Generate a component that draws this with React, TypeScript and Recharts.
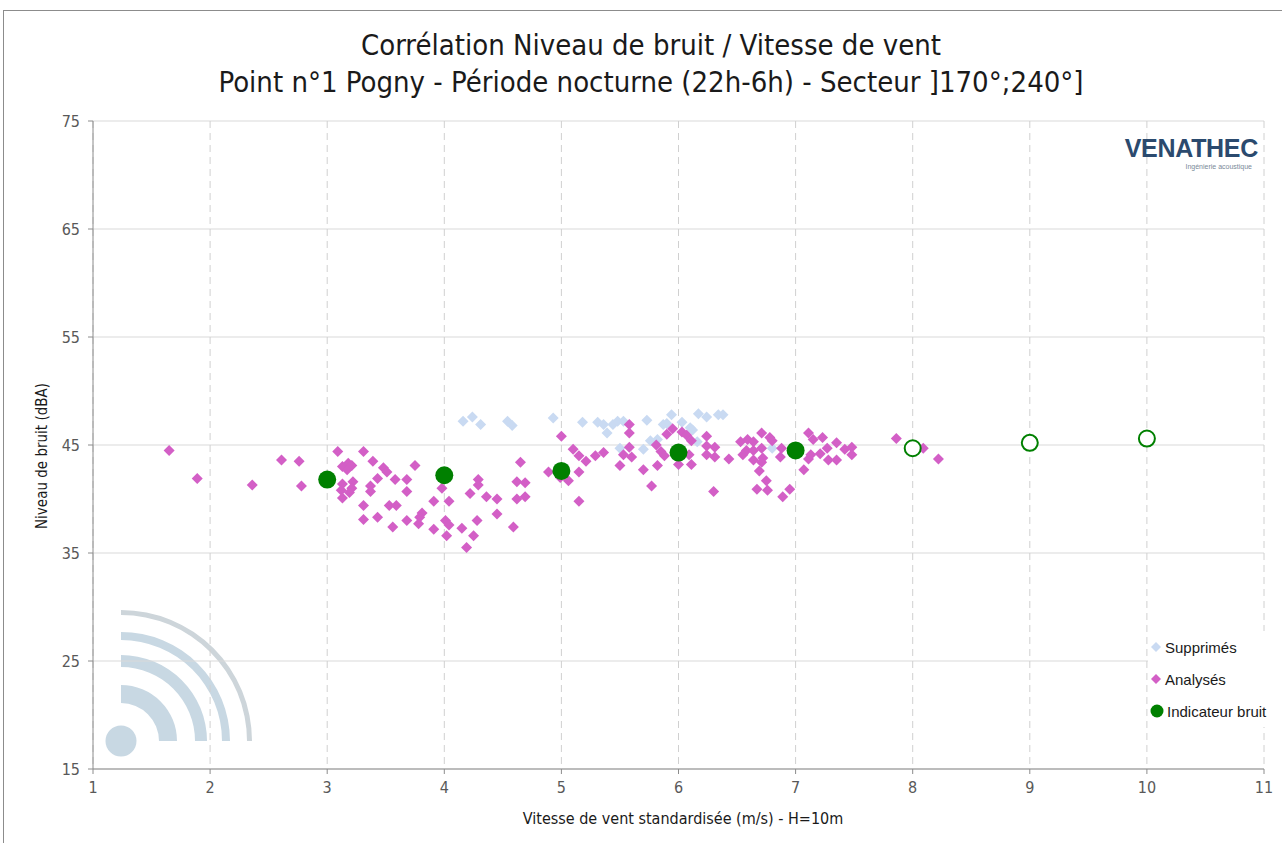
import React from "react";
import { ScatterChart, Scatter, XAxis, YAxis, CartesianGrid, Legend } from "recharts";

// wind speed (m/s) / noise level (dBA) pairs
const supprimes: [number, number][] = [
  [4.16, 47.2], [4.24, 47.6], [4.31, 46.9], [4.54, 47.2], [4.58, 46.8],
  [4.93, 47.5], [5.18, 47.1], [5.31, 47.1], [5.36, 46.9], [5.39, 46.1],
  [5.44, 46.9], [5.48, 47.2], [5.53, 47.2], [5.5, 44.7], [5.7, 44.6],
  [5.73, 47.3], [5.76, 45.4], [5.82, 45.5], [5.87, 46.9], [5.9, 47.0],
  [5.94, 47.8], [6.03, 47.1], [6.1, 46.6], [6.12, 46.4], [6.16, 45.3],
  [6.17, 47.9], [6.24, 47.6], [6.34, 47.8], [6.38, 47.8], [6.8, 44.7],
];

const analyses: [number, number][] = [
  [1.65, 44.5], [1.89, 41.9], [2.36, 41.3], [2.61, 43.6], [2.76, 43.5],
  [2.78, 41.2], [3.09, 44.4], [3.13, 43.0], [3.18, 43.3], [3.21, 43.1],
  [3.17, 42.7], [3.31, 44.4], [3.39, 43.5], [3.48, 42.9], [3.51, 42.5],
  [3.75, 43.1], [3.43, 41.9], [3.58, 41.8], [3.68, 41.8], [3.13, 41.4],
  [3.22, 41.6], [3.21, 41.0], [3.12, 40.8], [3.19, 40.6], [3.13, 40.1],
  [3.37, 41.2], [3.37, 40.7], [3.68, 40.7], [3.31, 39.4], [3.53, 39.4],
  [3.59, 39.4], [3.31, 38.1], [3.43, 38.3], [3.56, 37.4], [3.68, 38.0],
  [3.78, 37.7], [3.81, 38.7], [3.79, 38.3], [3.91, 39.8], [3.98, 41.0],
  [4.04, 39.8], [3.91, 37.2], [4.01, 38.0], [4.04, 37.6], [4.02, 36.6],
  [4.15, 37.3], [4.19, 35.5], [4.22, 40.5], [4.25, 36.6], [4.29, 41.8],
  [4.29, 41.3], [4.28, 38.0], [4.36, 40.2], [4.45, 40.0], [4.45, 38.6],
  [4.59, 37.4], [4.65, 43.4], [4.62, 41.6], [4.62, 40.0], [4.69, 41.5],
  [4.69, 40.2], [4.89, 42.5], [4.99, 42.0], [5.06, 41.7], [5.0, 45.8],
  [5.1, 44.6], [5.15, 44.0], [5.21, 43.5], [5.15, 42.5], [5.15, 39.8],
  [5.29, 44.0], [5.36, 44.3], [5.5, 43.1], [5.53, 44.1], [5.58, 44.8],
  [5.6, 43.9], [5.58, 46.9], [5.58, 46.1], [5.7, 42.7], [5.77, 41.2],
  [5.82, 43.1], [5.81, 45.0], [5.85, 44.4], [5.88, 44.0], [5.9, 46.0],
  [5.95, 46.5], [6.03, 46.2], [6.07, 45.9], [6.11, 45.4], [6.0, 43.2],
  [6.11, 43.2], [6.09, 44.1], [6.24, 45.8], [6.24, 44.9], [6.31, 44.8],
  [6.24, 44.1], [6.31, 43.9], [6.43, 43.7], [6.3, 40.7], [6.53, 45.3],
  [6.59, 45.5], [6.64, 45.3], [6.58, 44.5], [6.64, 44.5], [6.71, 44.7],
  [6.71, 46.1], [6.78, 45.7], [6.8, 45.4], [6.55, 44.1], [6.64, 43.6],
  [6.72, 43.8], [6.71, 43.4], [6.69, 42.6], [6.75, 41.7], [6.67, 40.9],
  [6.76, 40.8], [6.87, 43.9], [6.88, 44.7], [6.89, 40.2], [6.95, 40.9],
  [7.07, 42.7], [7.11, 46.1], [7.15, 45.5], [7.11, 43.7], [7.13, 44.1],
  [7.23, 45.7], [7.35, 45.2], [7.27, 44.7], [7.21, 44.2], [7.28, 43.6],
  [7.35, 43.6], [7.42, 44.6], [7.48, 44.8], [7.48, 44.1], [7.86, 45.6],
  [8.09, 44.7], [8.22, 43.7],
];

const indicatorSpeeds = [3, 4, 5, 6, 7];
const indicatorLevels = [41.8, 42.2, 42.6, 44.3, 44.5];
const extrapolatedSpeeds = [8, 9, 10];
const extrapolatedLevels = [44.7, 45.2, 45.6];

const xTicks = [1, 2, 3, 4, 5, 6, 7, 8, 9, 10, 11];
const yTicks = [15, 25, 35, 45, 55, 65, 75];

const toPoints = (pairs: [number, number][]) => pairs.map(([x, y]) => ({ x, y }));
const indicatorData = indicatorSpeeds.map((x, i) => ({ x, y: indicatorLevels[i] }));
const extrapolatedData = extrapolatedSpeeds.map((x, i) => ({ x, y: extrapolatedLevels[i] }));

const BLUE = "#C9DAF2";
const MAGENTA = "#D35FC6";
const GREEN = "#008000";
const NARROW = "'Liberation Sans Narrow', 'DejaVu Sans Condensed', sans-serif";

const diamond = (color: string, r = 5.5) => (props: any) => {
  const { cx, cy } = props;
  if (cx == null || cy == null) return <g />;
  return (
    <polygon
      points={`${cx},${cy - r} ${cx + r},${cy} ${cx},${cy + r} ${cx - r},${cy}`}
      fill={color}
    />
  );
};

const dot = (props: any) => (
  <circle cx={props.cx} cy={props.cy} r={9} fill={GREEN} />
);
const ring = (props: any) => (
  <circle cx={props.cx} cy={props.cy} r={8} fill="#fff" stroke={GREEN} strokeWidth={2} />
);

function LegendBox() {
  const row = { display: "flex", alignItems: "center", height: 32, gap: 3 } as const;
  return (
    <div style={{ background: "#fff", padding: "0 2px", fontFamily: "'Liberation Sans', Arial, sans-serif", fontSize: 15, color: "#1a1a1a" }}>
      <div style={row}>
        <svg width={12} height={12}><polygon points="6,1 11,6 6,11 1,6" fill={BLUE} /></svg>
        <span>Supprimés</span>
      </div>
      <div style={row}>
        <svg width={12} height={12}><polygon points="6,1 11,6 6,11 1,6" fill={MAGENTA} /></svg>
        <span>Analysés</span>
      </div>
      <div style={row}>
        <svg width={14} height={14}><circle cx={7} cy={7} r={6.5} fill={GREEN} /></svg>
        <span>Indicateur bruit</span>
      </div>
    </div>
  );
}

// quarter-ring path for the watermark
const ringPath = (cx: number, cy: number, r1: number, r2: number) =>
  `M${cx},${cy - r2} A${r2},${r2} 0 0 1 ${cx + r2},${cy} L${cx + r1},${cy} A${r1},${r1} 0 0 0 ${cx},${cy - r1} Z`;

export default function App() {
  return (
    <div style={{ position: "absolute", left: 0, top: 0, width: 1282, height: 843, background: "#fff", overflow: "hidden" }}>
      {/* frame */}
      <div style={{ position: "absolute", left: 3, top: 10, width: 1300, height: 900, borderLeft: "1.5px solid #8c8c8c", borderTop: "1.5px solid #8c8c8c" }} />

      {/* watermark */}
      <svg width={300} height={200} style={{ position: "absolute", left: 0, top: 600 }}>
        <g transform="translate(0,-600)">
          <path d={ringPath(121, 741, 126, 131)} fill="#CDD5DA" />
          <path d={ringPath(121, 741, 101, 109)} fill="#C8D8E3" />
          <path d={ringPath(121, 741, 74, 86)} fill="#C8D8E3" />
          <path d={ringPath(121, 741, 38, 56)} fill="#C8D8E3" />
          <circle cx={121} cy={741} r={15.5} fill="#C8D8E3" />
        </g>
      </svg>

      {/* title */}
      <div style={{ position: "absolute", left: 0, top: 27, width: 1302, textAlign: "center", fontFamily: NARROW, fontSize: 29, lineHeight: "37px", color: "#1a1a1a" }}>
        <div>Corrélation Niveau de bruit / Vitesse de vent</div>
        <div>Point n°1 Pogny - Période nocturne (22h-6h) - Secteur ]170°;240°]</div>
      </div>

      <div style={{ position: "absolute", left: 0, top: 0 }}>
        <ScatterChart width={1282} height={843} margin={{ top: 121, right: 18, bottom: 44, left: 33 }}>
          <CartesianGrid horizontal vertical={false} stroke="#D9D9D9" />
          <CartesianGrid horizontal={false} vertical stroke="#D0D0D0" strokeDasharray="7 5" />
          <XAxis
            type="number"
            dataKey="x"
            domain={[1, 11]}
            ticks={xTicks}
            allowDataOverflow
            height={30}
            stroke="#8c8c8c"
            tickSize={5}
            tickMargin={8}
            tick={{ fill: "#595959", fontSize: 16, fontFamily: NARROW }}
          />
          <YAxis
            type="number"
            dataKey="y"
            domain={[15, 75]}
            ticks={yTicks}
            allowDataOverflow
            width={60}
            stroke="#8c8c8c"
            tickSize={5}
            tickMargin={8}
            tick={{ fill: "#595959", fontSize: 16, fontFamily: NARROW }}
          />
          <Legend
            layout="horizontal"
            align="center"
            verticalAlign="middle"
            content={() => <LegendBox />}
            wrapperStyle={{ position: "absolute", left: 1148, top: 631, width: 134, height: 96 }}
          />
          <Scatter name="Supprimés" data={toPoints(supprimes)} shape={diamond(BLUE)} isAnimationActive={false} />
          <Scatter name="Analysés" data={toPoints(analyses)} shape={diamond(MAGENTA)} isAnimationActive={false} />
          <Scatter name="Indicateur bruit" data={indicatorData} shape={dot} isAnimationActive={false} />
          <Scatter name="Extrapolé" data={extrapolatedData} shape={ring} legendType="none" isAnimationActive={false} />
        </ScatterChart>
      </div>

      {/* axis titles */}
      <div style={{ position: "absolute", left: 42, top: 456, transform: "translate(-50%,-50%) rotate(-90deg)", whiteSpace: "nowrap", fontFamily: NARROW, fontSize: 15, color: "#1a1a1a" }}>
        Niveau de bruit (dBA)
      </div>
      <div style={{ position: "absolute", left: 683, top: 818, transform: "translate(-50%,-50%)", whiteSpace: "nowrap", fontFamily: NARROW, fontSize: 16, color: "#1a1a1a" }}>
        Vitesse de vent standardisée (m/s) - H=10m
      </div>

      {/* logo */}
      <div style={{ position: "absolute", left: 1118, top: 134, width: 140, textAlign: "right", fontFamily: "'Liberation Sans', Arial, sans-serif" }}>
        <div style={{ fontSize: 25, fontWeight: 700, color: "#2B4A6E", lineHeight: "28px", letterSpacing: -0.3 }}>VENATHEC</div>
        <div style={{ fontSize: 7, color: "#7a8a99", lineHeight: "9px", paddingRight: 6 }}>Ingénierie acoustique</div>
      </div>
    </div>
  );
}
